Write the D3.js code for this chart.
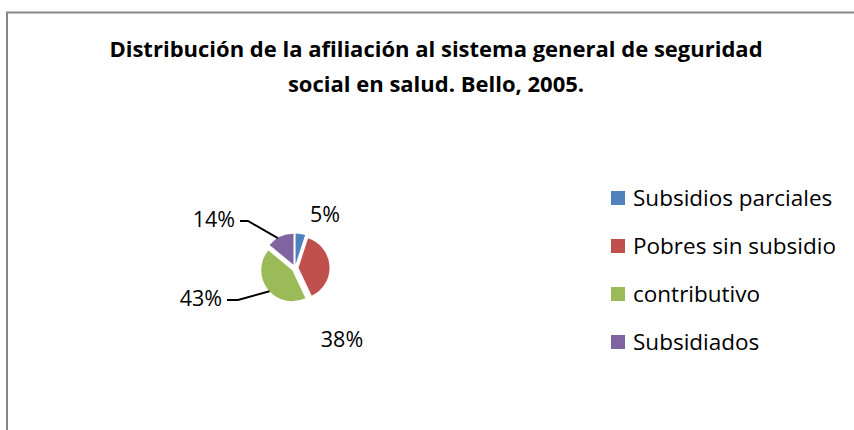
<!DOCTYPE html>
<html lang="es">
<head>
<meta charset="utf-8">
<title>Afiliación Bello 2005</title>
<script src="https://cdn.jsdelivr.net/npm/d3@7"></script>
<style>
  body { margin: 0; background: #fff; }
  text { font-family: "Open Sans", Lato, sans-serif; fill: #000; }
</style>
</head>
<body>
<script>
// chart data
var categories = ["Subsidios parciales", "Pobres sin subsidio", "contributivo", "Subsidiados"];
var values = [5, 38, 43, 14];
var colors = ["#4F81BD", "#C0504D", "#9BBB59", "#8064A2"];
var titleLines = ["Distribución de la afiliación al sistema general de seguridad",
                  "social en salud. Bello, 2005."];

var w = 854, h = 430;
var cx = 295, cy = 268, r = 31, explode = 3.5;

// label placement (relative to pie centre) and whether a leader line is drawn
var labelPos = [
  {dx: 30, dy: -46, anchor: "middle", leader: false},
  {dx: 47, dy: 79, anchor: "middle", leader: false},
  {dx: -73, dy: 38, anchor: "end", leader: true, hx: -57},
  {dx: -60, dy: -41, anchor: "end", leader: true, hx: -47}
];

var svg = d3.select("body").append("svg")
  .attr("width", w)
  .attr("height", h);

// chart area border (top and left edges visible)
svg.append("path")
  .attr("d", "M7,430 V12.5 H854")
  .attr("fill", "none")
  .attr("stroke", "#868686")
  .attr("stroke-width", 2);

// title
svg.selectAll(".title")
  .data(titleLines)
  .enter()
  .append("text")
  .attr("class", "title")
  .attr("x", 436)
  .attr("y", function(d, i) { return 57 + i * 35; })
  .attr("text-anchor", "middle")
  .attr("font-size", 22)
  .attr("font-weight", "bold")
  .text(function(d) { return d; });

var pie = d3.pie().sort(null).value(function(d) { return d; });
var arcs = pie(values);
var arc = d3.arc().innerRadius(0).outerRadius(r);

var g = svg.append("g").attr("transform", "translate(" + cx + "," + cy + ")");

function mid(d) { return (d.startAngle + d.endAngle) / 2; }

g.selectAll("path.slice")
  .data(arcs)
  .enter()
  .append("path")
  .attr("class", "slice")
  .attr("d", arc)
  .attr("fill", function(d, i) { return colors[i]; })
  .attr("transform", function(d) {
    var a = mid(d);
    return "translate(" + (explode * Math.sin(a)) + "," + (-explode * Math.cos(a)) + ")";
  });

// leader lines
g.selectAll("path.leader")
  .data(arcs.filter(function(d, i) { return labelPos[i].leader; }))
  .enter()
  .append("path")
  .attr("class", "leader")
  .attr("fill", "none")
  .attr("stroke", "#000")
  .attr("stroke-width", 2)
  .attr("d", function(d) {
    var p = labelPos[d.index];
    var a = mid(d) - 0.08;
    var ex = (r + explode) * Math.sin(a), ey = -(r + explode) * Math.cos(a);
    var ly = p.dy - 6;
    return "M" + (p.dx + 5) + "," + ly + " H" + p.hx + " L" + ex + "," + ey;
  });

// percentage labels
var total = d3.sum(values);
g.selectAll("text.pct")
  .data(arcs)
  .enter()
  .append("text")
  .attr("class", "pct")
  .attr("x", function(d, i) { return labelPos[i].dx; })
  .attr("y", function(d, i) { return labelPos[i].dy; })
  .attr("text-anchor", function(d, i) { return labelPos[i].anchor; })
  .attr("font-size", 21.5)
  .text(function(d) { return Math.round(d.value / total * 100) + "%"; });

// legend
var legend = svg.append("g").attr("transform", "translate(611,0)");
var rowY = d3.scalePoint().domain(categories).range([198, 342]);

var items = legend.selectAll("g")
  .data(categories)
  .enter()
  .append("g")
  .attr("transform", function(d) { return "translate(0," + rowY(d) + ")"; });

items.append("rect")
  .attr("x", 0)
  .attr("y", -7)
  .attr("width", 14)
  .attr("height", 14)
  .attr("fill", function(d, i) { return colors[i]; });

items.append("text")
  .attr("x", 22)
  .attr("y", 8)
  .attr("font-size", 22.5)
  .text(function(d) { return d; });
</script>
</body>
</html>
